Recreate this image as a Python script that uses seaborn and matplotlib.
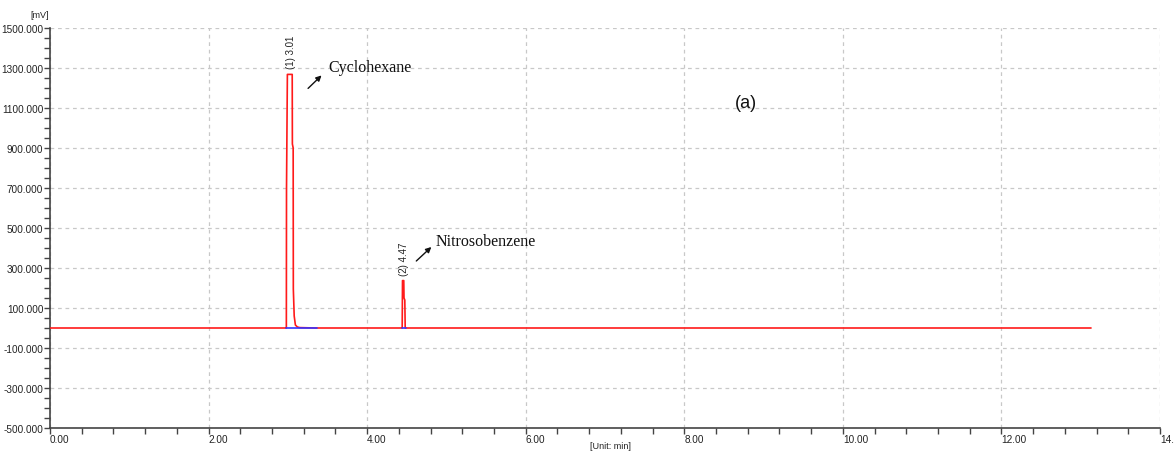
import matplotlib
matplotlib.use("Agg")
import matplotlib.pyplot as plt
import seaborn as sns
import pandas as pd
from matplotlib.ticker import MultipleLocator, FormatStrFormatter

# ---- data ----
time_min = [0.00, 2.975, 2.981, 2.983, 2.994, 3.055, 3.057, 3.067, 3.069, 3.080, 3.095, 3.12, 3.15, 3.35,
            4.435, 4.442, 4.446, 4.462, 4.465, 4.475, 4.480, 4.488, 13.13]
signal_mv = [0.0, 0.0, 0.0, 695.0, 1268.0, 1268.0, 920.0, 900.0, 195.0, 60.0, 15.0, 5.0, 2.0, 0.0,
             0.0, 0.0, 237.0, 237.0, 150.0, 140.0, 0.0, 0.0, 0.0]
base1_t = [2.98, 3.37]
base1_v = [0.0, 0.0]
base2_t = [4.438, 4.488]
base2_v = [0.0, 0.0]
peak_labels = ["(1) 3.01", "(2) 4.47"]
peak_label_t = [3.045, 4.47]
peak_heights = [1268.0, 237.0]
compound_names = ["Cyclohexane", "Nitrosobenzene"]
x_ticks = [0, 2, 4, 6, 8, 10, 12, 14]
y_ticks = [-500, -300, -100, 100, 300, 500, 700, 900, 1100, 1300, 1500]

sns.set_style("white")
plt.rcParams["font.family"] = ["Liberation Sans", "DejaVu Sans"]

fig = plt.figure(figsize=(11.74, 4.56), dpi=100)
ax = fig.add_axes([50 / 1174, 27 / 456, 1110 / 1174, 400 / 456])

df = pd.DataFrame({"t": time_min, "v": signal_mv})
sns.lineplot(data=df, x="t", y="v", ax=ax, color="#ff1a1a", linewidth=1.2,
             estimator=None, sort=False, zorder=3)
sns.lineplot(x=base1_t, y=base1_v, ax=ax, color="#3333ff", linewidth=1.2,
             estimator=None, zorder=4)
sns.lineplot(x=base2_t, y=base2_v, ax=ax, color="#3333ff", linewidth=1.2,
             estimator=None, zorder=4)

ax.set_xlim(0, 14)
ax.set_ylim(-500, 1500)
ax.set_xticks(x_ticks)
ax.set_yticks(y_ticks)
ax.xaxis.set_minor_locator(MultipleLocator(0.4))
ax.yaxis.set_minor_locator(MultipleLocator(50))
ax.xaxis.set_major_formatter(FormatStrFormatter("%.2f"))
ax.yaxis.set_major_formatter(FormatStrFormatter("%.3f"))
ax.tick_params(axis="both", which="both", direction="out", length=4, width=1,
               color="#444444", labelsize=7.2, labelcolor="#222222")
ax.tick_params(axis="both", which="both", bottom=True, left=True)
ax.tick_params(axis="x", which="major", pad=0.5)
ax.tick_params(axis="y", which="major", pad=0.8)
for lab in ax.get_xticklabels():
    lab.set_horizontalalignment("left")

ax.grid(True, which="major", linestyle=(0, (3, 3)), color="#c8c8c8", linewidth=0.9)
for s in ["top", "right"]:
    ax.spines[s].set_visible(False)
for s in ["left", "bottom"]:
    ax.spines[s].set_color("#444444")
    ax.spines[s].set_linewidth(1.2)
ax.set_xlabel("")
ax.set_ylabel("")

fig.text(30 / 1174, 1 - 16 / 456, "[mV]", fontsize=6.5, color="#222222",
         ha="left", va="center")
fig.text(610 / 1174, 1 - 447 / 456, "[Unit: min]", fontsize=6.5, color="#222222",
         ha="center", va="center")

# peak labels
for lab, t, h in zip(peak_labels, peak_label_t, peak_heights):
    ax.text(t, h + 30, lab, rotation=90, fontsize=7, ha="center", va="bottom",
            color="#222222")

# compound annotations: (text x, text y, arrow tail x, tail y, head x, head y) offsets from peak
offsets = [(0.47, 35, 0.21, -70, 0.38, -5), (0.39, 198, 0.15, 98, 0.34, 168)]
for name, t, h, (tx, ty, ax0, ay0, ax1, ay1) in zip(compound_names, peak_label_t,
                                                    peak_heights, offsets):
    ax.text(t + tx, h + ty, name, fontsize=11.5, family="Liberation Serif",
            color="#111111", ha="left", va="center")
    ax.annotate("", xy=(t + ax1, h + ay1), xytext=(t + ax0, h + ay0),
                arrowprops=dict(arrowstyle="-|>", color="#111111", lw=1.0,
                                mutation_scale=8, shrinkA=0, shrinkB=0))

ax.text(0.627, 0.815, "(a)", transform=ax.transAxes, fontsize=13,
        color="#111111", ha="center", va="center")

fig.savefig("out.png", dpi=100)
